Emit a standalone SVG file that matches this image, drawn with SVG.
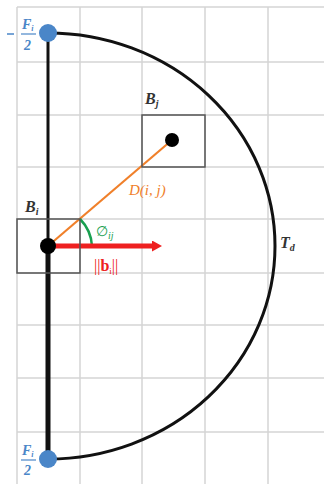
<svg xmlns="http://www.w3.org/2000/svg" width="324" height="484" viewBox="0 0 324 484">
<style>
.grid line{stroke:#d4d4d4;stroke-width:1.5}
.box{fill:none;stroke:#555;stroke-width:1.5}
.lbl{font-family:"Liberation Serif",serif;font-style:italic}
.blue{fill:#4a86c8;font-family:"Liberation Serif",serif;font-style:italic;font-weight:bold}
</style>
<defs>
<marker id="ah" markerWidth="2" markerHeight="2.2" refX="0.2" refY="1.1" orient="auto" markerUnits="strokeWidth">
<path d="M0,0 L2,1.1 L0,2.2 z" fill="#ee2020"/>
</marker>
</defs>
<rect width="324" height="484" fill="#fff"/>
<g class="grid">
<line x1="17" y1="7" x2="17" y2="484"/>
<line x1="80" y1="7" x2="80" y2="484"/>
<line x1="142" y1="7" x2="142" y2="484"/>
<line x1="205" y1="7" x2="205" y2="484"/>
<line x1="268" y1="7" x2="268" y2="484"/>
<line x1="17" y1="7" x2="324" y2="7"/>
<line x1="17" y1="62" x2="324" y2="62"/>
<line x1="17" y1="115" x2="324" y2="115"/>
<line x1="17" y1="167" x2="324" y2="167"/>
<line x1="17" y1="219" x2="324" y2="219"/>
<line x1="17" y1="273" x2="324" y2="273"/>
<line x1="17" y1="325" x2="324" y2="325"/>
<line x1="17" y1="378" x2="324" y2="378"/>
<line x1="17" y1="432" x2="324" y2="432"/>
</g>
<g id="connectors">
<path d="M48,33 A227,213 0 0 1 48,459" fill="none" stroke="#111" stroke-width="3"/>
<line x1="48" y1="33" x2="48" y2="246" stroke="#111" stroke-width="3"/>
<line x1="48" y1="246" x2="48" y2="459" stroke="#111" stroke-width="5"/>
<line x1="48" y1="246" x2="172" y2="140" stroke="#f0802a" stroke-width="2.2"/>
<path d="M80,219 A42,42 0 0 1 92,246" fill="none" stroke="#1aa050" stroke-width="2.5"/>
<line x1="50" y1="246" x2="153" y2="246" stroke="#ee2020" stroke-width="5" marker-end="url(#ah)"/>
</g>
<g id="Bi">
<rect class="box" x="17" y="219" width="63" height="54"/>
<circle cx="48" cy="246" r="8" fill="#000"/>
<text class="lbl" x="25" y="212" font-size="16" fill="#333" font-weight="bold">B<tspan font-size="10" dy="3">i</tspan></text>
</g>
<g id="Bj">
<rect class="box" x="142" y="115" width="63" height="52"/>
<circle cx="172" cy="140" r="7" fill="#000"/>
<text class="lbl" x="145" y="104" font-size="16" fill="#333" font-weight="bold">B<tspan font-size="10" dy="3">j</tspan></text>
</g>
<g id="labels">
<text class="lbl" x="129" y="195" font-size="15" fill="#f0802a">D(i, j)</text>
<text x="96" y="236" font-size="14" fill="#1aa050" font-family="Liberation Serif,serif">∅<tspan font-size="10" dy="3" font-style="italic">ij</tspan></text>
<text x="94" y="271" font-size="16" fill="#ee2020" font-family="Liberation Serif,serif">||<tspan font-weight="bold">b</tspan><tspan font-size="9" dy="3">i</tspan><tspan dy="-3">||</tspan></text>
<text class="lbl" x="280" y="248" font-size="16" fill="#333" font-weight="bold">T<tspan font-size="10" dy="3">d</tspan></text>
</g>
<g id="Ftop">
<line x1="7" y1="34" x2="14" y2="34" stroke="#4a86c8" stroke-width="1.5"/>
<text class="blue" x="22" y="29" font-size="14">F<tspan font-size="8" dy="2">i</tspan></text>
<line x1="21" y1="34" x2="36" y2="34" stroke="#4a86c8" stroke-width="1.2"/>
<text class="blue" x="24" y="50" font-size="14" font-style="normal">2</text>
<circle cx="48" cy="33" r="9" fill="#4a86c8"/>
</g>
<g id="Fbot">
<text class="blue" x="22" y="455" font-size="14">F<tspan font-size="8" dy="2">i</tspan></text>
<line x1="21" y1="460" x2="36" y2="460" stroke="#4a86c8" stroke-width="1.2"/>
<text class="blue" x="24" y="475" font-size="14" font-style="normal">2</text>
<circle cx="48" cy="459" r="9" fill="#4a86c8"/>
</g>
</svg>
